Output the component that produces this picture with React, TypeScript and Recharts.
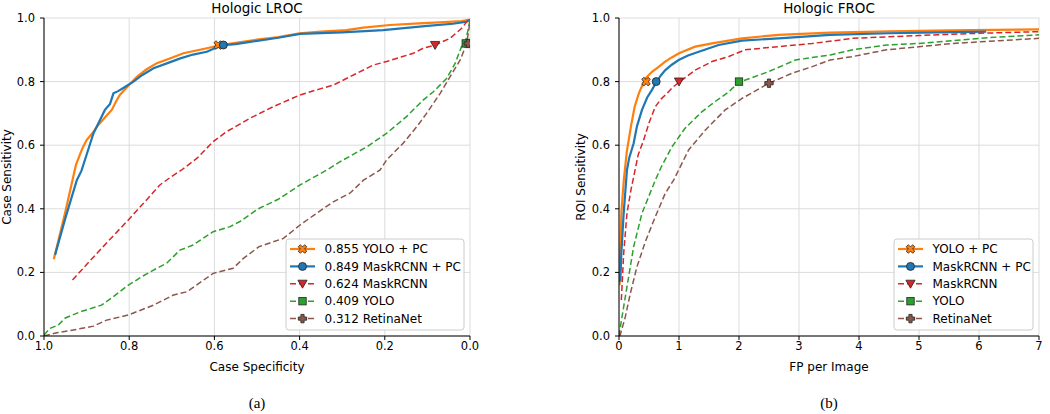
import React from 'react';
import { ComposedChart, Line, Scatter, XAxis, YAxis, CartesianGrid } from 'recharts';

// ---------- tick labels ----------
const LROC_X_TICKS = [1.0, 0.8, 0.6, 0.4, 0.2, 0.0];
const FROC_X_TICKS = [0, 1, 2, 3, 4, 5, 6, 7];
const Y_TICKS = [0, 0.2, 0.4, 0.6, 0.8, 1.0];

// ---------- LROC data: [specificity, sensitivity] ----------
const lrocYoloPc: [number, number][] = [
  [0.977, 0.241], [0.95, 0.39], [0.925, 0.538], [0.91, 0.59], [0.9, 0.616], [0.885, 0.64], [0.873, 0.663],
  [0.855, 0.69], [0.841, 0.711], [0.83, 0.74], [0.822, 0.758], [0.8, 0.79], [0.782, 0.815], [0.76, 0.838],
  [0.735, 0.858], [0.7, 0.875], [0.673, 0.889], [0.645, 0.897], [0.618, 0.905], [0.585, 0.915], [0.55, 0.922],
  [0.5, 0.932], [0.45, 0.94], [0.4, 0.952], [0.35, 0.957], [0.29, 0.962], [0.25, 0.97], [0.188, 0.978],
  [0.12, 0.983], [0.06, 0.987], [0.02, 0.99], [0.0, 0.995],
];
const lrocMaskPc: [number, number][] = [
  [0.974, 0.255], [0.95, 0.37], [0.923, 0.49], [0.912, 0.52], [0.9, 0.57], [0.884, 0.637], [0.87, 0.675],
  [0.857, 0.711], [0.845, 0.73], [0.837, 0.763], [0.826, 0.77], [0.81, 0.783], [0.79, 0.8], [0.77, 0.82],
  [0.743, 0.842], [0.71, 0.858], [0.68, 0.873], [0.65, 0.885], [0.618, 0.894], [0.599, 0.905], [0.579, 0.915],
  [0.55, 0.918], [0.516, 0.925], [0.45, 0.938], [0.399, 0.95], [0.3, 0.955], [0.204, 0.962], [0.1, 0.975],
  [0.04, 0.982], [0.008, 0.988], [0.0, 0.995],
];
const lrocMask: [number, number][] = [
  [0.933, 0.176], [0.9, 0.225], [0.85, 0.297], [0.802, 0.365], [0.76, 0.427], [0.728, 0.475], [0.7, 0.502],
  [0.677, 0.522], [0.64, 0.56], [0.603, 0.611], [0.571, 0.643], [0.516, 0.685], [0.462, 0.721], [0.399, 0.758],
  [0.35, 0.778], [0.321, 0.789], [0.282, 0.815], [0.227, 0.852], [0.196, 0.863], [0.16, 0.878], [0.133, 0.889],
  [0.11, 0.905], [0.082, 0.915], [0.047, 0.936], [0.02, 0.967], [0.004, 0.994],
];
const lrocYolo: [number, number][] = [
  [1.0, 0.003], [0.986, 0.024], [0.966, 0.035], [0.951, 0.056], [0.915, 0.076], [0.865, 0.097], [0.837, 0.124],
  [0.802, 0.16], [0.77, 0.187], [0.735, 0.213], [0.712, 0.229], [0.681, 0.27], [0.65, 0.286], [0.603, 0.328],
  [0.563, 0.344], [0.54, 0.36], [0.497, 0.4], [0.45, 0.43], [0.399, 0.475], [0.336, 0.522], [0.305, 0.548],
  [0.242, 0.595], [0.196, 0.637], [0.149, 0.69], [0.11, 0.742], [0.086, 0.768], [0.055, 0.81], [0.035, 0.857],
  [0.02, 0.91], [0.012, 0.92], [0.005, 0.96], [0.0, 0.995],
];
const lrocRetina: [number, number][] = [
  [1.0, 0.0], [0.97, 0.01], [0.931, 0.019], [0.884, 0.031], [0.853, 0.05], [0.802, 0.066], [0.743, 0.097],
  [0.696, 0.129], [0.665, 0.139], [0.642, 0.16], [0.603, 0.197], [0.556, 0.213], [0.532, 0.244], [0.495, 0.281],
  [0.438, 0.307], [0.399, 0.349], [0.36, 0.386], [0.321, 0.422], [0.282, 0.449], [0.25, 0.49], [0.211, 0.522],
  [0.195, 0.555], [0.157, 0.606], [0.125, 0.658], [0.102, 0.7], [0.07, 0.763], [0.047, 0.815], [0.023, 0.868],
  [0.012, 0.905], [0.008, 0.92], [0.003, 0.96], [0.0, 0.995],
];
const lrocMarkers: [number, number][] = [
  [0.591, 0.915], [0.579, 0.915], [0.082, 0.915], [0.01, 0.92], [0.004, 0.92],
];
const lrocAuc = ['0.855', '0.849', '0.624', '0.409', '0.312'];

// ---------- FROC data: [FP per image, sensitivity] ----------
const frocYoloPc: [number, number][] = [
  [0.01, 0.16], [0.02, 0.26], [0.04, 0.39], [0.08, 0.49], [0.13, 0.58], [0.2, 0.66], [0.26, 0.72],
  [0.33, 0.763], [0.44, 0.81], [0.55, 0.831], [0.65, 0.845], [0.77, 0.863], [0.88, 0.876], [1.0, 0.889],
  [1.27, 0.91], [1.55, 0.92], [2.05, 0.936], [2.66, 0.947], [3.52, 0.954], [4.5, 0.958], [5.5, 0.961], [7.0, 0.964],
];
const frocMaskPc: [number, number][] = [
  [0.022, 0.171], [0.039, 0.26], [0.078, 0.386], [0.133, 0.522], [0.17, 0.56], [0.244, 0.606], [0.3, 0.66],
  [0.383, 0.711], [0.47, 0.75], [0.55, 0.774], [0.62, 0.798], [0.7, 0.82], [0.772, 0.836], [0.88, 0.853],
  [0.994, 0.868], [1.15, 0.882], [1.33, 0.894], [1.66, 0.915], [2.05, 0.929], [2.66, 0.936], [3.52, 0.947],
  [4.5, 0.952], [5.3, 0.955], [6.12, 0.957],
];
const frocMask: [number, number][] = [
  [0.039, 0.113], [0.078, 0.26], [0.133, 0.386], [0.2, 0.46], [0.244, 0.5], [0.32, 0.57], [0.411, 0.616],
  [0.5, 0.67], [0.605, 0.721], [0.7, 0.745], [0.8, 0.763], [0.9, 0.783], [1.0, 0.798], [1.27, 0.836],
  [1.55, 0.863], [1.83, 0.879], [2.1, 0.9], [2.66, 0.91], [3.22, 0.92], [3.9, 0.936], [5.0, 0.945],
  [6.0, 0.952], [7.0, 0.957],
];
const frocYolo: [number, number][] = [
  [0.0, 0.0], [0.006, 0.008], [0.05, 0.06], [0.133, 0.155], [0.244, 0.281], [0.383, 0.386], [0.494, 0.438],
  [0.605, 0.49], [0.7, 0.53], [0.883, 0.595], [1.1, 0.653], [1.38, 0.705], [1.6, 0.737], [1.83, 0.768],
  [2.0, 0.798], [2.49, 0.831], [2.94, 0.868], [3.52, 0.884], [3.9, 0.9], [4.46, 0.915], [5.0, 0.92],
  [5.57, 0.929], [6.3, 0.94], [7.0, 0.947],
];
const frocRetina: [number, number][] = [
  [0.0, 0.0], [0.02, 0.003], [0.105, 0.06], [0.189, 0.134], [0.3, 0.218], [0.44, 0.297], [0.605, 0.375],
  [0.772, 0.449], [0.91, 0.49], [0.994, 0.522], [1.16, 0.585], [1.44, 0.648], [1.77, 0.711], [2.05, 0.747],
  [2.5, 0.795], [2.88, 0.826], [3.22, 0.847], [3.52, 0.868], [3.9, 0.879], [4.46, 0.9], [5.57, 0.92], [7.0, 0.936],
];
const frocMarkers: [number, number][] = [
  [0.45, 0.8], [0.62, 0.8], [1.0, 0.8], [2.0, 0.8], [2.5, 0.795],
];

const SERIES_NAMES = ['YOLO + PC', 'MaskRCNN + PC', 'MaskRCNN', 'YOLO', 'RetinaNet'];

// ---------- styles ----------
const STYLES = [
  { color: '#ff7f0e', dashed: false, marker: 'X' },
  { color: '#1f77b4', dashed: false, marker: 'o' },
  { color: '#d62728', dashed: true, marker: 'v' },
  { color: '#2ca02c', dashed: true, marker: 's' },
  { color: '#8c564b', dashed: true, marker: 'P' },
];
const FONT = '"DejaVu Sans", sans-serif';
const EDGE = '#222';

const toPts = (arr: [number, number][]) => arr.map(([x, y]) => ({ x, y }));

function crossPoly(cx: number, cy: number, a: number, b: number, rot: number) {
  const base = [
    [-a, -b], [a, -b], [a, -a], [b, -a], [b, a], [a, a], [a, b], [-a, b], [-a, a], [-b, a], [-b, -a], [-a, -a],
  ];
  const c = Math.cos(rot), s = Math.sin(rot);
  return base.map(([x, y]) => `${cx + x * c - y * s},${cy + x * s + y * c}`).join(' ');
}

function Marker({ kind, cx, cy, color }: { kind: string; cx: number; cy: number; color: string }) {
  const common = { fill: color, stroke: EDGE, strokeWidth: 0.8 };
  if (kind === 'o') return <circle cx={cx} cy={cy} r={4} {...common} />;
  if (kind === 'v')
    return <polygon points={`${cx - 4.6},${cy - 3.6} ${cx + 4.6},${cy - 3.6} ${cx},${cy + 4.4}`} {...common} />;
  if (kind === 's') return <rect x={cx - 3.7} y={cy - 3.7} width={7.4} height={7.4} {...common} />;
  if (kind === 'X') return <polygon points={crossPoly(cx, cy, 1.5, 4.6, Math.PI / 4)} {...common} />;
  return <polygon points={crossPoly(cx, cy, 1.6, 4.2, 0)} {...common} />;
}

const tickStyle = { fontSize: 11.5, fill: '#000', fontFamily: FONT };

function Panel({
  series,
  markers,
  xTicks,
  xDomain,
  reversed,
  width,
  margin,
  xFmt,
}: {
  series: [number, number][][];
  markers: [number, number][];
  xTicks: number[];
  xDomain: [number, number];
  reversed: boolean;
  width: number;
  margin: { top: number; right: number; bottom: number; left: number };
  xFmt: (v: number) => string;
}) {
  return (
    <ComposedChart width={width} height={380} margin={margin}>
      <CartesianGrid stroke="#dcdcdc" strokeWidth={1} />
      <XAxis
        type="number"
        dataKey="x"
        domain={xDomain}
        reversed={reversed}
        ticks={xTicks}
        tickFormatter={xFmt}
        allowDataOverflow
        height={44}
        tick={tickStyle}
        tickSize={4}
        tickMargin={2}
        tickLine={{ stroke: '#000' }}
        axisLine={{ stroke: '#000' }}
        interval={0}
      />
      <YAxis
        type="number"
        dataKey="y"
        domain={[0, 1]}
        ticks={Y_TICKS}
        tickFormatter={(v: number) => v.toFixed(1)}
        allowDataOverflow
        width={44}
        tick={tickStyle}
        tickSize={4}
        tickMargin={5}
        tickLine={{ stroke: '#000' }}
        axisLine={{ stroke: '#000' }}
        interval={0}
      />
      <XAxis
        xAxisId="top"
        orientation="top"
        type="number"
        domain={xDomain}
        height={0}
        tick={false}
        tickLine={false}
        axisLine={{ stroke: '#000' }}
      />
      <YAxis
        yAxisId="right"
        orientation="right"
        type="number"
        domain={[0, 1]}
        width={0}
        tick={false}
        tickLine={false}
        axisLine={{ stroke: '#000' }}
      />
      {series.map((d, i) => (
        <Line
          key={'l' + i}
          data={toPts(d)}
          dataKey="y"
          type="linear"
          stroke={STYLES[i].color}
          strokeWidth={STYLES[i].dashed ? 1.5 : 2.2}
          strokeDasharray={STYLES[i].dashed ? '6 3' : undefined}
          dot={false}
          activeDot={false}
          isAnimationActive={false}
        />
      ))}
      {markers.map((m, i) => (
        <Scatter
          key={'m' + i}
          data={[{ x: m[0], y: m[1] }]}
          dataKey="y"
          isAnimationActive={false}
          shape={(p: any) => <Marker kind={STYLES[i].marker} cx={p.cx} cy={p.cy} color={STYLES[i].color} />}
        />
      ))}
    </ComposedChart>
  );
}

function LegendBox({ x, y, w, labels }: { x: number; y: number; w: number; labels: string[] }) {
  const rowH = 17.4;
  return (
    <g>
      <rect x={x} y={y} width={w} height={91} rx={3} fill="rgba(255,255,255,0.85)" stroke="#cccccc" strokeWidth={1} />
      {labels.map((lab, i) => {
        const cy = y + 10 + i * rowH;
        const st = STYLES[i];
        return (
          <g key={i}>
            <line
              x1={x + 4}
              x2={x + 29}
              y1={cy}
              y2={cy}
              stroke={st.color}
              strokeWidth={st.dashed ? 1.5 : 2.2}
              strokeDasharray={st.dashed ? '6 3' : undefined}
            />
            <Marker kind={st.marker} cx={x + 16.5} cy={cy} color={st.color} />
            <text x={x + 38.5} y={cy + 4.2} fontSize={12} fontFamily={FONT} fill="#000">
              {lab}
            </text>
          </g>
        );
      })}
    </g>
  );
}

export default function App() {
  const lrocLabels = SERIES_NAMES.map((n, i) => `${lrocAuc[i]} ${n}`);
  return (
    <div style={{ position: 'absolute', left: 0, top: 0, width: 1050, height: 414, background: '#fff' }}>
      <div style={{ position: 'absolute', left: 0, top: 0 }}>
        <Panel
          series={[lrocYoloPc, lrocMaskPc, lrocMask, lrocYolo, lrocRetina]}
          markers={lrocMarkers}
          xTicks={LROC_X_TICKS}
          xDomain={[0, 1]}
          reversed
          width={480}
          margin={{ top: 18, right: 10, bottom: 0, left: 0 }}
          xFmt={(v: number) => v.toFixed(1)}
        />
      </div>
      <div style={{ position: 'absolute', left: 560, top: 0 }}>
        <Panel
          series={[frocYoloPc, frocMaskPc, frocMask, frocYolo, frocRetina]}
          markers={frocMarkers}
          xTicks={FROC_X_TICKS}
          xDomain={[0, 7]}
          reversed={false}
          width={490}
          margin={{ top: 18, right: 11, bottom: 0, left: 15 }}
          xFmt={(v: number) => String(v)}
        />
      </div>
      <svg
        width={1050}
        height={414}
        style={{ position: 'absolute', left: 0, top: 0, pointerEvents: 'none' }}
      >
        <text x={257} y={13} textAnchor="middle" fontSize={13.5} fontFamily={FONT} fill="#000">
          Hologic LROC
        </text>
        <text x={829} y={13} textAnchor="middle" fontSize={13.5} fontFamily={FONT} fill="#000">
          Hologic FROC
        </text>
        <text x={257} y={370.5} textAnchor="middle" fontSize={12} fontFamily={FONT} fill="#000">
          Case Specificity
        </text>
        <text x={829} y={370.5} textAnchor="middle" fontSize={12} fontFamily={FONT} fill="#000">
          FP per Image
        </text>
        <text
          x={11}
          y={177}
          textAnchor="middle"
          fontSize={12}
          fontFamily={FONT}
          fill="#000"
          transform="rotate(-90, 11, 177)"
        >
          Case Sensitivity
        </text>
        <text
          x={585}
          y={177}
          textAnchor="middle"
          fontSize={12}
          fontFamily={FONT}
          fill="#000"
          transform="rotate(-90, 585, 177)"
        >
          ROI Sensitivity
        </text>
        <LegendBox x={286} y={239} w={178} labels={lrocLabels} />
        <LegendBox x={894} y={239} w={139} labels={SERIES_NAMES} />
        <text x={257} y={408} textAnchor="middle" fontSize={15} fontFamily='"Liberation Serif", serif' fill="#000">
          (a)
        </text>
        <text x={829} y={408} textAnchor="middle" fontSize={15} fontFamily='"Liberation Serif", serif' fill="#000">
          (b)
        </text>
      </svg>
    </div>
  );
}
